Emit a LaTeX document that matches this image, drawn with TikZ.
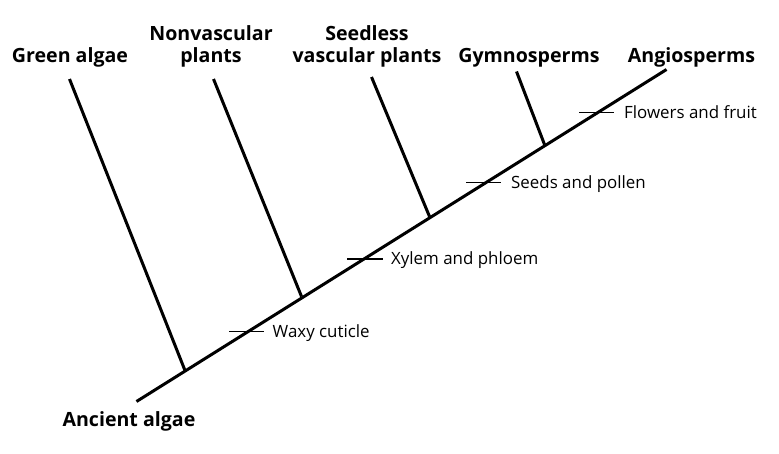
\documentclass[tikz,border=0pt]{standalone}
\usepackage{fontspec}
\setmainfont{Open Sans}
\begin{document}
\begin{tikzpicture}[x=1pt,y=-1pt,
  trunk/.style={line width=3pt,line cap=butt},
  tick/.style={line width=1.2pt},
  taxon/.style={font=\fontsize{19.6}{21.5}\selectfont\bfseries,inner sep=0pt,align=center},
  trait/.style={font=\fontsize{16.9}{20}\selectfont,inner sep=0pt,anchor=base west}]
\useasboundingbox (0,0) rectangle (779,453);
% trunk
\coordinate (root) at (136.5,401.5);
\coordinate (tip) at (666.5,69.5);
\coordinate (j1) at (185,370.5);
\coordinate (j2) at (301.5,296.5);
\coordinate (j3) at (429.5,216.5);
\coordinate (j4) at (544.5,144.5);
\coordinate (t1) at (69.5,79);
\coordinate (t2) at (213.5,79);
\coordinate (t3) at (371.5,77);
\coordinate (t4) at (516.5,71.5);
\draw[trunk] (root) -- (tip);
\draw[trunk] (t1) -- (j1);
\draw[trunk] (t2) -- (j2);
\draw[trunk] (t3) -- (j3);
\draw[trunk] (t4) -- (j4);
% taxa
\node[taxon,anchor=base] (ga) at (70,62) {Green algae};
\node[taxon,anchor=base] (nv) at (211,62) {Nonvascular\\plants};
\node[taxon,anchor=base] (sv) at (367,62) {Seedless\\vascular plants};
\node[taxon,anchor=base] (gy) at (529,62) {Gymnosperms};
\node[taxon,anchor=base] (an) at (691.5,62) {Angiosperms};
\node[taxon,anchor=base] (aa) at (129,426.5) {Ancient algae};
% traits
\coordinate (w1) at (229,331.5); \coordinate (w2) at (264,331.5);
\coordinate (x1) at (347,259); \coordinate (x2) at (382.5,259);
\coordinate (s1) at (466,182.5); \coordinate (s2) at (500.5,182.5);
\coordinate (f1) at (579,112.5); \coordinate (f2) at (613.5,112.5);
\draw[tick] (w1) -- (w2);
\draw[tick] (x1) -- (x2);
\draw[tick] (s1) -- (s2);
\draw[tick] (f1) -- (f2);
\node[trait] (wl) at (272.5,337) {Waxy cuticle};
\node[trait] (xl) at (391,264) {Xylem and phloem};
\node[trait] (sl) at (511,188.5) {Seeds and pollen};
\node[trait] (fl) at (624,118.5) {Flowers and fruit};
\end{tikzpicture}
\end{document}
